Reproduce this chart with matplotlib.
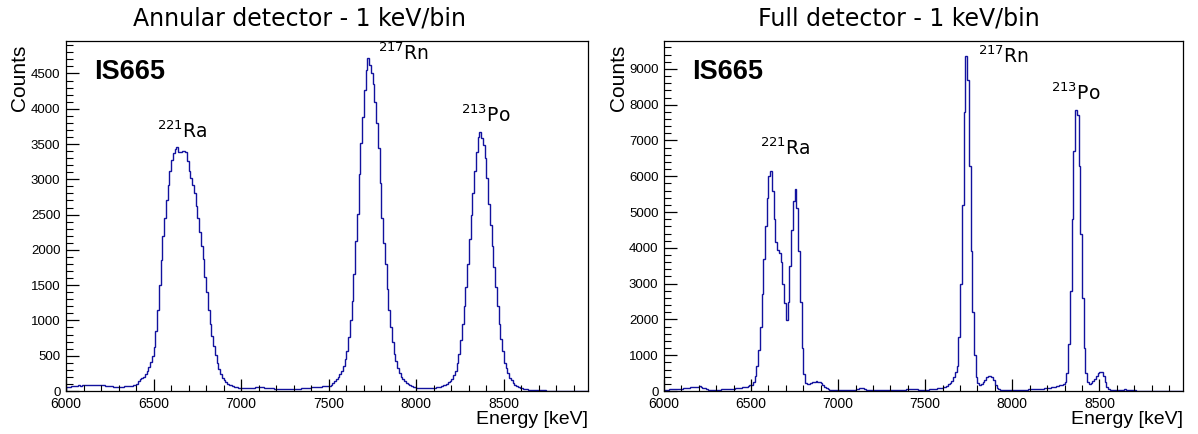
import numpy as np
import matplotlib
matplotlib.use("Agg")
import matplotlib.pyplot as plt
from matplotlib.ticker import MultipleLocator

plt.rcParams["font.family"] = ["Liberation Sans", "DejaVu Sans"]

# spectra in 10 keV bins starting at 6000 keV
e_start = 6000
bin_width = 10

annular_counts = [
    50, 55, 60, 65, 70, 70, 75, 78, 75, 78,               # 6000
    80, 78, 82, 80, 85, 88, 90, 92, 88, 85,               # 6100
    82, 78, 75, 72, 70, 68, 65, 62, 60, 60,               # 6200
    58, 60, 62, 65, 68, 70, 72, 75, 78, 85,               # 6300
    100, 140, 175, 180, 200, 240, 290, 340, 410, 500,     # 6400
    620, 850, 1150, 1500, 1850, 2200, 2450, 2700, 2920, 3120,   # 6500
    3280, 3370, 3430, 3460, 3380, 3380, 3400, 3400, 3380, 3260,  # 6600
    3120, 3020, 2920, 2800, 2620, 2450, 2260, 2060, 1870, 1620,  # 6700
    1400, 1150, 950, 780, 640, 510, 400, 310, 240, 190,   # 6800
    150, 125, 105, 90, 78, 68, 60, 54, 48, 44,            # 6900
    40, 40, 42, 42, 45, 45, 48, 48, 50, 50,               # 7000
    52, 55, 50, 48, 45, 42, 40, 38, 36, 35,               # 7100
    33, 32, 30, 30, 30, 28, 28, 30, 30, 30,               # 7200
    30, 32, 33, 35, 36, 38, 40, 42, 45, 48,               # 7300
    50, 52, 55, 58, 60, 62, 64, 66, 68, 72,               # 7400
    75, 90, 110, 135, 165, 200, 240, 290, 360, 450,       # 7500
    570, 760, 1000, 1280, 1660, 2130, 2510, 3080, 3510, 3890,   # 7600
    4270, 4550, 4720, 4620, 4500, 4350, 4100, 3800, 3450, 2950,  # 7700
    2450, 2100, 1800, 1450, 1150, 900, 700, 530, 420, 320,       # 7800
    250, 200, 165, 135, 110, 95, 80, 70, 62, 55,          # 7900
    48, 46, 44, 42, 40, 40, 40, 40, 42, 44,               # 8000
    48, 50, 55, 60, 68, 78, 90, 105, 125, 145,            # 8100
    170, 220, 290, 390, 520, 720, 950, 1200, 1480, 1800,  # 8200
    2150, 2500, 2800, 3120, 3380, 3600, 3670, 3580, 3480, 3300,  # 8300
    3020, 2650, 2350, 2050, 1760, 1480, 1200, 950, 740, 560,     # 8400
    400, 320, 250, 190, 150, 115, 90, 70, 55, 45,         # 8500
    38, 32, 28, 24, 20, 18, 16, 14, 12, 11,               # 8600
    10, 9, 8, 8, 7, 7, 6, 6, 6, 5,                        # 8700
    5, 5, 5, 4, 4, 4, 4, 4, 4, 4,                         # 8800
    4, 3, 3, 3, 3, 3, 3, 3, 3, 3,                         # 8900
]

full_counts = [
    28, 32, 38, 42, 47, 52, 58, 62, 66, 66,               # 6000
    66, 72, 80, 88, 94, 100, 105, 110, 118, 125,          # 6100
    130, 120, 95, 70, 50, 40, 35, 30, 28, 28,             # 6200
    28, 32, 38, 45, 52, 57, 60, 62, 64, 65,               # 6300
    66, 70, 76, 84, 94, 104, 115, 125, 140, 155,          # 6400
    170, 260, 420, 700, 1150, 1800, 2700, 3700, 4600, 5400,      # 6500
    6000, 6150, 5600, 4800, 4150, 3950, 3850, 3600, 3000, 2450,  # 6600
    1980, 2500, 3500, 4500, 5300, 5650, 5100, 3900, 2500, 1200,  # 6700
    480, 210, 190, 195, 210, 240, 260, 270, 265, 245,     # 6800
    210, 170, 120, 80, 55, 40, 30, 25, 22, 20,            # 6900
    19, 19, 20, 22, 24, 26, 28, 30, 34, 38,               # 7000
    45, 60, 75, 85, 80, 60, 40, 30, 25, 22,               # 7100
    20, 18, 17, 16, 16, 15, 15, 16, 16, 17,               # 7200
    17, 18, 18, 19, 20, 22, 24, 28, 34, 45,               # 7300
    55, 65, 68, 62, 52, 44, 40, 38, 38, 38,               # 7400
    38, 40, 42, 45, 50, 57, 64, 72, 82, 92,               # 7500
    104, 125, 150, 185, 230, 290, 380, 520, 700, 1500,    # 7600
    3000, 5200, 7800, 9350, 8700, 6300, 3900, 2200, 1000, 400,   # 7700
    220, 170, 190, 260, 320, 380, 420, 430, 400, 300,     # 7800
    180, 90, 50, 35, 30, 30, 28, 28, 28, 28,              # 7900
    28, 28, 30, 30, 32, 34, 36, 38, 40, 42,               # 8000
    44, 46, 48, 50, 54, 58, 62, 66, 72, 78,               # 8100
    85, 92, 100, 110, 120, 130, 140, 155, 175, 200,       # 8200
    260, 500, 1300, 2800, 4800, 6700, 7850, 7700, 6300, 4400,    # 8300
    2600, 1200, 500, 260, 200, 230, 280, 340, 420, 490,   # 8400
    530, 520, 420, 250, 120, 60, 40, 35, 32, 30,          # 8500
    30, 32, 36, 40, 42, 40, 35, 30, 25, 20,               # 8600
    16, 12, 10, 8, 7, 6, 5, 5, 4, 4,                      # 8700
    4, 3, 3, 3, 3, 3, 3, 2, 2, 2,                         # 8800
    2, 2, 2, 2, 2, 2, 2, 2, 2, 2,                         # 8900
]

titles = ["Annular detector - 1 keV/bin", "Full detector - 1 keV/bin"]
peak_names = [r"$^{221}$Ra", r"$^{217}$Rn", r"$^{213}$Po"]
experiment = "IS665"

LINE_COLOR = "#12129e"


def draw_panel(ax, counts, ymax, ymajor, yminor, label_xy):
    edges = e_start + bin_width * np.arange(len(counts) + 1)
    ax.stairs(counts, edges, color=LINE_COLOR, lw=1.0)

    ax.set_xlim(6000, 8980)
    ax.set_ylim(0, ymax)
    ax.xaxis.set_major_locator(MultipleLocator(500))
    ax.xaxis.set_minor_locator(MultipleLocator(100))
    ax.yaxis.set_major_locator(MultipleLocator(ymajor))
    ax.yaxis.set_minor_locator(MultipleLocator(yminor))
    ax.tick_params(which="both", direction="in", top=False, right=False)
    ax.tick_params(axis="x", which="major", length=8.5, width=0.9, labelsize=10, pad=4)
    ax.tick_params(axis="x", which="minor", length=4.5, width=0.8)
    ax.tick_params(axis="y", which="major", length=9.5, width=0.9, labelsize=9.5, pad=4)
    ax.tick_params(axis="y", which="minor", length=5, width=0.8)
    for sp in ax.spines.values():
        sp.set_linewidth(0.9)

    ax.set_xlabel("Energy [keV]", fontsize=14, loc="right")
    ax.xaxis.set_label_coords(1.0, -0.057)
    ax.set_ylabel("Counts", fontsize=15, loc="top")
    ax.yaxis.set_label_coords(-0.07, 0.99)

    ax.text(0.054, 0.95, experiment, transform=ax.transAxes, ha="left", va="top",
            fontsize=19.5, fontweight="bold")
    for name, (x, y) in zip(peak_names, label_xy):
        ax.text(x, y, name, ha="center", va="center", fontsize=13.5,
                family=["DejaVu Sans"])


fig = plt.figure(figsize=(11.98, 4.34), dpi=100)
ax1 = fig.add_axes([66 / 1198, 43 / 434, 522 / 1198, 350 / 434])
ax2 = fig.add_axes([664 / 1198, 43 / 434, 519 / 1198, 350 / 434])

draw_panel(ax1, annular_counts, 4960, 500, 100,
           [(6663, 3680), (7926, 4780), (8396, 3910)])
draw_panel(ax2, full_counts, 9780, 1000, 200,
           [(6697, 6775), (7948, 9355), (8365, 8330)])

fig.text(0.25, 0.958, titles[0], ha="center", va="center", fontsize=17,
         family=["DejaVu Sans"])
fig.text(0.75, 0.958, titles[1], ha="center", va="center", fontsize=17,
         family=["DejaVu Sans"])

fig.savefig("out.png", dpi=100)
